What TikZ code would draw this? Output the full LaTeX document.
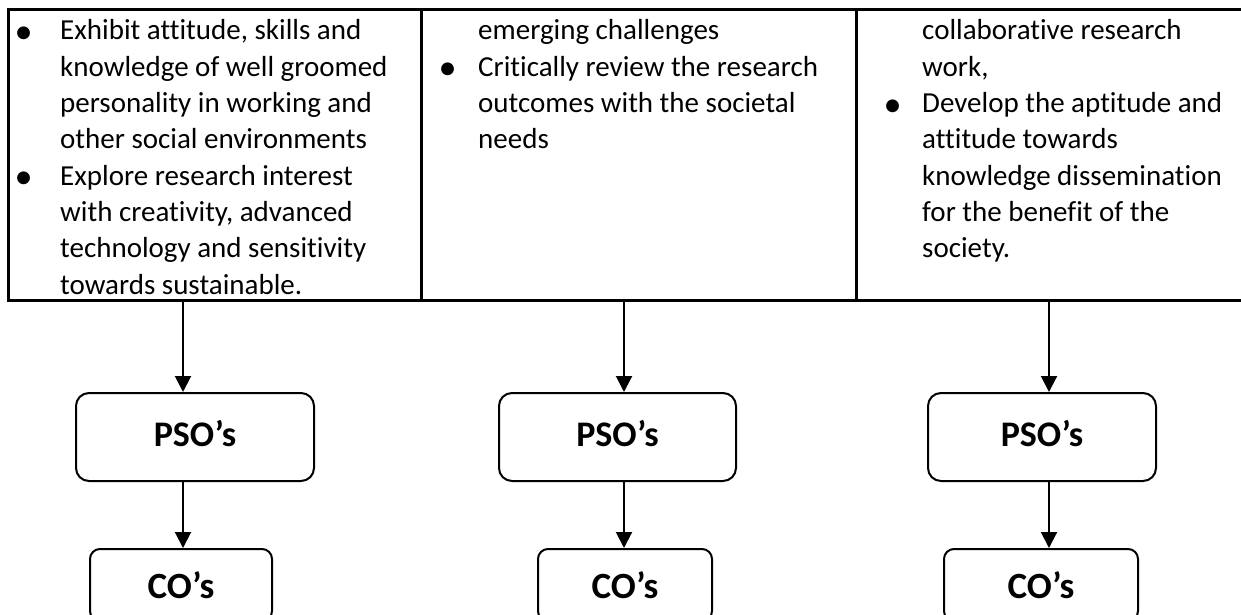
\documentclass[tikz,border=0pt]{standalone}
\usepackage{fontspec}
\setmainfont{Carlito}[Ligatures=NoCommon]
\usetikzlibrary{arrows.meta}
\newcommand{\bul}[1]{\makebox[#1][l]{\hspace*{-2.5pt}\raisebox{-3.5pt}{\scalebox{1.25}{•}}}}
\newcommand{\ind}[1]{\hspace*{#1}}
\begin{document}
\begin{tikzpicture}[x=1pt,y=-1pt,
  cell/.style={anchor=base west,inner sep=0pt},
  pso/.style={draw,line width=2pt,rounded corners=13pt,minimum width=#1,minimum height=88pt,inner sep=0pt,font=\fontsize{36}{40}\selectfont\bfseries},
  cobox/.style={draw,line width=2pt,rounded corners=10pt,minimum width=#1,minimum height=72pt,inner sep=0pt,font=\fontsize{37}{40}\selectfont\bfseries},
  arr/.style={line width=2pt,-{Triangle[length=16pt,width=16pt]}}]
\useasboundingbox (0,0) rectangle (1241,615);
\clip (0,0) rectangle (1241,615);
% table
\draw[line width=3pt] (8,10) rectangle (1260,300);
\draw[line width=3pt] (421,10) -- (421,300);
\draw[line width=3pt] (856,10) -- (856,300);
% cells
\node[cell] (c1) at (17,40) {\parbox[t]{400pt}{\fontsize{29}{36.3}\selectfont\raggedright
\bul{43pt}Exhibit attitude, skills and\\
\ind{43pt}knowledge of well groomed\\
\ind{43pt}personality in working and\\
\ind{43pt}other social environments\\
\bul{43pt}Explore research interest\\
\ind{43pt}with creativity, advanced\\
\ind{43pt}technology and sensitivity\\
\ind{43pt}towards sustainable.}};
\node[cell] (c2) at (441,40) {\parbox[t]{400pt}{\fontsize{29}{36.3}\selectfont\raggedright
\ind{37pt}emerging challenges\\
\bul{37pt}Critically review the research\\
\ind{37pt}outcomes with the societal\\
\ind{37pt}needs}};
\node[cell] (c3) at (886,40) {\parbox[t]{350pt}{\fontsize{29}{36.3}\selectfont\raggedright
\ind{36pt}collaborative research\\
\ind{36pt}work,\\
\bul{36pt}Develop the aptitude and\\
\ind{36pt}attitude towards\\
\ind{36pt}knowledge dissemination\\
\ind{36pt}for the benefit of the\\
\ind{36pt}society.}};
% arrow sources at table bottom
\coordinate (t1) at (183,300);
\coordinate (t2) at (624,300);
\coordinate (t3) at (1049,300);
% PSO boxes
\node[pso=238pt] (p1) at (195,437) {\raisebox{7pt}{PSO’s}};
\node[pso=237pt] (p2) at (617.5,437) {\raisebox{7pt}{PSO’s}};
\node[pso=228pt] (p3) at (1042,437) {\raisebox{7pt}{PSO’s}};
% CO boxes
\node[cobox=182pt] (o1) at (181,585) {CO’s};
\node[cobox=174pt] (o2) at (625,585) {CO’s};
\node[cobox=194pt] (o3) at (1041,585) {CO’s};
% arrows
\draw[arr] (t1) -- (t1 |- p1.north);
\draw[arr] (t2) -- (t2 |- p2.north);
\draw[arr] (t3) -- (t3 |- p3.north);
\draw[arr] (t1 |- p1.south) -- (t1 |- o1.north);
\draw[arr] (t2 |- p2.south) -- (t2 |- o2.north);
\draw[arr] (t3 |- p3.south) -- (t3 |- o3.north);
\end{tikzpicture}
\end{document}
